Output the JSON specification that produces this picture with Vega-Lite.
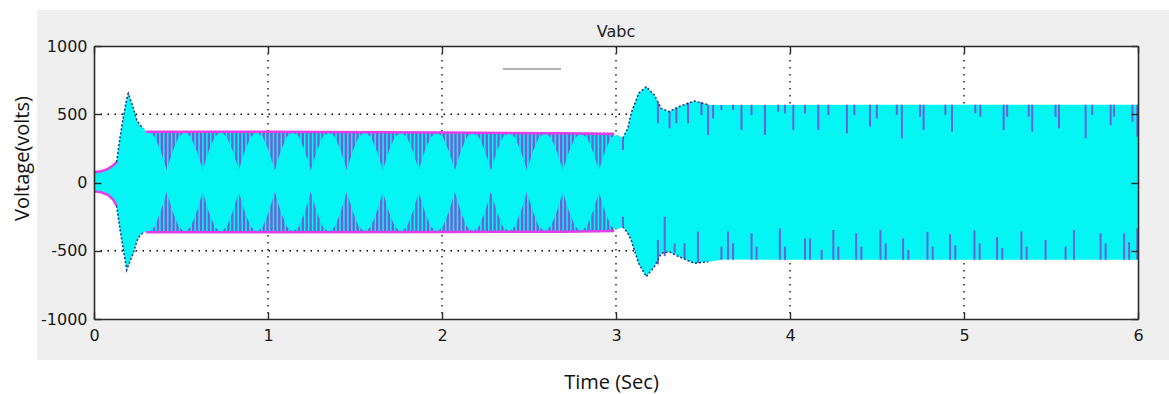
{
  "$schema": "https://vega.github.io/schema/vega-lite/v6.json",
  "width": 1044,
  "height": 273,
  "autosize": {"type": "none"},
  "padding": {"left": 94, "top": 46, "right": 31, "bottom": 75},
  "background": "white",
  "config": {
    "view": {"stroke": null},
    "axis": {
      "domainColor": "#2b2b2b", "domainWidth": 1.6,
      "tickColor": "#2b2b2b", "tickWidth": 1.4, "tickSize": -7,
      "labelFont": "DejaVu Sans", "labelFontSize": 16, "labelColor": "#1a1a1a",
      "grid": false, "labelOverlap": false,
      "titleFont": "Open Sans", "titleFontSize": 20, "titleFontWeight": "normal", "titleColor": "#111111"
    },
    "axisX": {"labelPadding": 15, "labelFlush": false},
    "axisY": {"labelPadding": 14}
  },
  "title": {"text": "Vabc", "font": "DejaVu Sans", "fontSize": 16, "fontWeight": "normal", "color": "#222222", "anchor": "middle", "offset": 6, "dy": 36},
  "resolve": {"axis": {"x": "independent", "y": "independent"}},
  "datasets": {
    "env": [
      {"t": 0, "hi": 75, "lo": -65}, {"t": 0.04, "hi": 82, "lo": -72}, {"t": 0.08, "hi": 100, "lo": -90},
      {"t": 0.11, "hi": 125, "lo": -125}, {"t": 0.13, "hi": 150, "lo": -170}, {"t": 0.15, "hi": 336, "lo": -348},
      {"t": 0.169, "hi": 482, "lo": -494}, {"t": 0.188, "hi": 615, "lo": -641}, {"t": 0.197, "hi": 653, "lo": -610},
      {"t": 0.217, "hi": 580, "lo": -545}, {"t": 0.226, "hi": 545, "lo": -519}, {"t": 0.246, "hi": 458, "lo": -430},
      {"t": 0.265, "hi": 420, "lo": -385}, {"t": 0.284, "hi": 395, "lo": -368}, {"t": 0.3, "hi": 375, "lo": -362},
      {"t": 0.3145, "hi": 370, "lo": -362}, {"t": 0.349, "hi": 335, "lo": -325}, {"t": 0.3835, "hi": 230, "lo": -215},
      {"t": 0.418, "hi": 90, "lo": -70}, {"t": 0.4525, "hi": 230, "lo": -215}, {"t": 0.487, "hi": 335, "lo": -325},
      {"t": 0.5215, "hi": 369, "lo": -362}, {"t": 0.556, "hi": 335, "lo": -325}, {"t": 0.5905, "hi": 230, "lo": -215},
      {"t": 0.625, "hi": 90, "lo": -70}, {"t": 0.6595, "hi": 230, "lo": -215}, {"t": 0.694, "hi": 335, "lo": -325},
      {"t": 0.7285, "hi": 369, "lo": -362}, {"t": 0.763, "hi": 335, "lo": -325}, {"t": 0.7975, "hi": 230, "lo": -215},
      {"t": 0.832, "hi": 90, "lo": -70}, {"t": 0.8665, "hi": 230, "lo": -215}, {"t": 0.901, "hi": 335, "lo": -325},
      {"t": 0.9355, "hi": 368, "lo": -362}, {"t": 0.97, "hi": 335, "lo": -325}, {"t": 1.0045, "hi": 230, "lo": -215},
      {"t": 1.039, "hi": 90, "lo": -70}, {"t": 1.0735, "hi": 230, "lo": -215}, {"t": 1.108, "hi": 335, "lo": -325},
      {"t": 1.1425, "hi": 368, "lo": -362}, {"t": 1.177, "hi": 335, "lo": -325}, {"t": 1.2115, "hi": 230, "lo": -215},
      {"t": 1.246, "hi": 90, "lo": -70}, {"t": 1.2805, "hi": 230, "lo": -215}, {"t": 1.315, "hi": 335, "lo": -325},
      {"t": 1.3495, "hi": 367, "lo": -362}, {"t": 1.384, "hi": 335, "lo": -325}, {"t": 1.4185, "hi": 230, "lo": -215},
      {"t": 1.453, "hi": 90, "lo": -70}, {"t": 1.4875, "hi": 230, "lo": -215}, {"t": 1.522, "hi": 335, "lo": -325},
      {"t": 1.5565, "hi": 366, "lo": -361}, {"t": 1.591, "hi": 335, "lo": -325}, {"t": 1.6255, "hi": 230, "lo": -215},
      {"t": 1.66, "hi": 90, "lo": -70}, {"t": 1.6945, "hi": 230, "lo": -215}, {"t": 1.729, "hi": 335, "lo": -325},
      {"t": 1.7635, "hi": 365, "lo": -361}, {"t": 1.798, "hi": 334, "lo": -324}, {"t": 1.8325, "hi": 230, "lo": -215},
      {"t": 1.867, "hi": 90, "lo": -70}, {"t": 1.9015, "hi": 230, "lo": -215}, {"t": 1.936, "hi": 334, "lo": -324},
      {"t": 1.9705, "hi": 364, "lo": -360}, {"t": 2.005, "hi": 333, "lo": -324}, {"t": 2.0395, "hi": 229, "lo": -214},
      {"t": 2.074, "hi": 90, "lo": -70}, {"t": 2.1085, "hi": 229, "lo": -214}, {"t": 2.143, "hi": 333, "lo": -324},
      {"t": 2.1775, "hi": 363, "lo": -360}, {"t": 2.212, "hi": 332, "lo": -323}, {"t": 2.2465, "hi": 228, "lo": -213},
      {"t": 2.281, "hi": 90, "lo": -70}, {"t": 2.3155, "hi": 228, "lo": -213}, {"t": 2.35, "hi": 332, "lo": -323},
      {"t": 2.3845, "hi": 362, "lo": -359}, {"t": 2.419, "hi": 331, "lo": -322}, {"t": 2.4535, "hi": 227, "lo": -212},
      {"t": 2.488, "hi": 90, "lo": -70}, {"t": 2.5225, "hi": 227, "lo": -212}, {"t": 2.557, "hi": 330, "lo": -322},
      {"t": 2.5915, "hi": 360, "lo": -358}, {"t": 2.626, "hi": 329, "lo": -321}, {"t": 2.6605, "hi": 226, "lo": -211},
      {"t": 2.695, "hi": 90, "lo": -70}, {"t": 2.7295, "hi": 226, "lo": -211}, {"t": 2.764, "hi": 328, "lo": -320},
      {"t": 2.7985, "hi": 358, "lo": -357}, {"t": 2.833, "hi": 327, "lo": -320}, {"t": 2.8675, "hi": 225, "lo": -210},
      {"t": 2.902, "hi": 90, "lo": -70}, {"t": 2.9365, "hi": 225, "lo": -210}, {"t": 2.971, "hi": 327, "lo": -318},
      {"t": 3.0055, "hi": 352, "lo": -345}, {"t": 3.039, "hi": 324, "lo": -324}, {"t": 3.068, "hi": 397, "lo": -372},
      {"t": 3.087, "hi": 507, "lo": -421}, {"t": 3.13, "hi": 653, "lo": -592}, {"t": 3.174, "hi": 702, "lo": -690},
      {"t": 3.22, "hi": 641, "lo": -617}, {"t": 3.26, "hi": 543, "lo": -519}, {"t": 3.305, "hi": 519, "lo": -507},
      {"t": 3.36, "hi": 555, "lo": -543}, {"t": 3.45, "hi": 597, "lo": -592}, {"t": 3.53, "hi": 570, "lo": -580},
      {"t": 3.62, "hi": 568, "lo": -565}, {"t": 4.5, "hi": 570, "lo": -566}, {"t": 6.0, "hi": 570, "lo": -566}
    ],
    "stripes": [
      {"t": 0.3}, {"t": 0.3225}, {"t": 0.345}, {"t": 0.3675}, {"t": 0.39}, {"t": 0.4125}, {"t": 0.435}, {"t": 0.4575},
      {"t": 0.48}, {"t": 0.5025}, {"t": 0.525}, {"t": 0.5475}, {"t": 0.57}, {"t": 0.5925}, {"t": 0.615}, {"t": 0.6375},
      {"t": 0.66}, {"t": 0.6825}, {"t": 0.705}, {"t": 0.7275}, {"t": 0.75}, {"t": 0.7725}, {"t": 0.795}, {"t": 0.8175},
      {"t": 0.84}, {"t": 0.8625}, {"t": 0.885}, {"t": 0.9075}, {"t": 0.93}, {"t": 0.9525}, {"t": 0.975}, {"t": 0.9975},
      {"t": 1.02}, {"t": 1.0425}, {"t": 1.065}, {"t": 1.0875}, {"t": 1.11}, {"t": 1.1325}, {"t": 1.155}, {"t": 1.1775},
      {"t": 1.2}, {"t": 1.2225}, {"t": 1.245}, {"t": 1.2675}, {"t": 1.29}, {"t": 1.3125}, {"t": 1.335}, {"t": 1.3575},
      {"t": 1.38}, {"t": 1.4025}, {"t": 1.425}, {"t": 1.4475}, {"t": 1.47}, {"t": 1.4925}, {"t": 1.515}, {"t": 1.5375},
      {"t": 1.56}, {"t": 1.5825}, {"t": 1.605}, {"t": 1.6275}, {"t": 1.65}, {"t": 1.6725}, {"t": 1.695}, {"t": 1.7175},
      {"t": 1.74}, {"t": 1.7625}, {"t": 1.785}, {"t": 1.8075}, {"t": 1.83}, {"t": 1.8525}, {"t": 1.875}, {"t": 1.8975},
      {"t": 1.92}, {"t": 1.9425}, {"t": 1.965}, {"t": 1.9875}, {"t": 2.01}, {"t": 2.0325}, {"t": 2.055}, {"t": 2.0775},
      {"t": 2.1}, {"t": 2.1225}, {"t": 2.145}, {"t": 2.1675}, {"t": 2.19}, {"t": 2.2125}, {"t": 2.235}, {"t": 2.2575},
      {"t": 2.28}, {"t": 2.3025}, {"t": 2.325}, {"t": 2.3475}, {"t": 2.37}, {"t": 2.3925}, {"t": 2.415}, {"t": 2.4375},
      {"t": 2.46}, {"t": 2.4825}, {"t": 2.505}, {"t": 2.5275}, {"t": 2.55}, {"t": 2.5725}, {"t": 2.595}, {"t": 2.6175},
      {"t": 2.64}, {"t": 2.6625}, {"t": 2.685}, {"t": 2.7075}, {"t": 2.73}, {"t": 2.7525}, {"t": 2.775}, {"t": 2.7975},
      {"t": 2.82}, {"t": 2.8425}, {"t": 2.865}, {"t": 2.8875}, {"t": 2.91}, {"t": 2.9325}, {"t": 2.955}, {"t": 2.9775}
    ],
    "spikes": [
      {"t": 3.04, "a": 324, "b": 238}, {"t": 3.241, "a": 590, "b": 434}, {"t": 3.308, "a": 519, "b": 397},
      {"t": 3.347, "a": 545, "b": 434}, {"t": 3.414, "a": 585, "b": 434}, {"t": 3.491, "a": 590, "b": 494},
      {"t": 3.529, "a": 570, "b": 348}, {"t": 3.558, "a": 568, "b": 470}, {"t": 3.606, "a": 568, "b": 531},
      {"t": 3.673, "a": 570, "b": 531}, {"t": 3.721, "a": 570, "b": 385}, {"t": 3.779, "a": 570, "b": 494},
      {"t": 3.856, "a": 570, "b": 348}, {"t": 3.932, "a": 570, "b": 519}, {"t": 3.971, "a": 570, "b": 506},
      {"t": 4.019, "a": 570, "b": 385}, {"t": 4.086, "a": 570, "b": 506}, {"t": 4.163, "a": 570, "b": 385},
      {"t": 4.221, "a": 570, "b": 494}, {"t": 4.327, "a": 570, "b": 360}, {"t": 4.37, "a": 570, "b": 494},
      {"t": 4.46, "a": 570, "b": 409}, {"t": 4.499, "a": 570, "b": 470}, {"t": 4.614, "a": 570, "b": 494},
      {"t": 4.643, "a": 570, "b": 324}, {"t": 4.748, "a": 570, "b": 482}, {"t": 4.768, "a": 570, "b": 385},
      {"t": 4.893, "a": 570, "b": 494}, {"t": 4.931, "a": 570, "b": 372}, {"t": 5.065, "a": 570, "b": 507},
      {"t": 5.094, "a": 570, "b": 482}, {"t": 5.228, "a": 570, "b": 385}, {"t": 5.248, "a": 570, "b": 482},
      {"t": 5.372, "a": 570, "b": 482}, {"t": 5.392, "a": 570, "b": 372}, {"t": 5.526, "a": 570, "b": 482},
      {"t": 5.546, "a": 570, "b": 397}, {"t": 5.699, "a": 570, "b": 324}, {"t": 5.737, "a": 570, "b": 494},
      {"t": 5.843, "a": 570, "b": 421}, {"t": 5.862, "a": 570, "b": 482}, {"t": 5.968, "a": 570, "b": 445},
      {"t": 5.996, "a": 570, "b": 336},
      {"t": 3.04, "a": -324, "b": -250}, {"t": 3.241, "a": -600, "b": -421}, {"t": 3.28, "a": -540, "b": -250},
      {"t": 3.337, "a": -515, "b": -446}, {"t": 3.394, "a": -560, "b": -446}, {"t": 3.471, "a": -590, "b": -360},
      {"t": 3.606, "a": -566, "b": -470}, {"t": 3.644, "a": -566, "b": -360}, {"t": 3.673, "a": -566, "b": -446},
      {"t": 3.779, "a": -566, "b": -372}, {"t": 3.808, "a": -566, "b": -470}, {"t": 3.942, "a": -566, "b": -336},
      {"t": 3.971, "a": -566, "b": -470}, {"t": 4.086, "a": -566, "b": -409}, {"t": 4.115, "a": -566, "b": -409},
      {"t": 4.182, "a": -566, "b": -494}, {"t": 4.249, "a": -566, "b": -348}, {"t": 4.278, "a": -566, "b": -470},
      {"t": 4.38, "a": -566, "b": -372}, {"t": 4.41, "a": -566, "b": -470}, {"t": 4.52, "a": -566, "b": -348},
      {"t": 4.55, "a": -566, "b": -446}, {"t": 4.65, "a": -566, "b": -409}, {"t": 4.68, "a": -566, "b": -494},
      {"t": 4.79, "a": -566, "b": -360}, {"t": 4.82, "a": -566, "b": -470}, {"t": 4.92, "a": -566, "b": -380},
      {"t": 4.95, "a": -566, "b": -460}, {"t": 5.06, "a": -566, "b": -350}, {"t": 5.09, "a": -566, "b": -446},
      {"t": 5.19, "a": -566, "b": -400}, {"t": 5.22, "a": -566, "b": -480}, {"t": 5.33, "a": -566, "b": -360},
      {"t": 5.36, "a": -566, "b": -470}, {"t": 5.469, "a": -566, "b": -421}, {"t": 5.584, "a": -566, "b": -470},
      {"t": 5.632, "a": -566, "b": -348}, {"t": 5.785, "a": -566, "b": -372}, {"t": 5.814, "a": -566, "b": -445},
      {"t": 5.92, "a": -566, "b": -372}, {"t": 5.949, "a": -566, "b": -438}, {"t": 5.996, "a": -566, "b": -336}
    ],
    "edge": [
      {"t": 0, "top": 75, "bot": -65, "seg": "a"}, {"t": 0.04, "top": 82, "bot": -72, "seg": "a"},
      {"t": 0.08, "top": 100, "bot": -90, "seg": "a"}, {"t": 0.11, "top": 125, "bot": -125, "seg": "a"},
      {"t": 0.13, "top": 150, "bot": -170, "seg": "a"},
      {"t": 0.3, "top": 372, "bot": -364, "seg": "b"}, {"t": 1.0, "top": 371, "bot": -365, "seg": "b"},
      {"t": 2.0, "top": 366, "bot": -363, "seg": "b"}, {"t": 2.7, "top": 361, "bot": -360, "seg": "b"},
      {"t": 2.99, "top": 356, "bot": -356, "seg": "b"}
    ],
    "dark": [
      {"t": 0.13, "hi": 150, "lo": -170, "seg": "a"}, {"t": 0.15, "hi": 336, "lo": -348, "seg": "a"},
      {"t": 0.169, "hi": 482, "lo": -494, "seg": "a"}, {"t": 0.188, "hi": 615, "lo": -641, "seg": "a"},
      {"t": 0.197, "hi": 653, "lo": -610, "seg": "a"}, {"t": 0.217, "hi": 580, "lo": -545, "seg": "a"},
      {"t": 0.226, "hi": 545, "lo": -519, "seg": "a"}, {"t": 0.246, "hi": 458, "lo": -430, "seg": "a"},
      {"t": 0.265, "hi": 420, "lo": -385, "seg": "a"}, {"t": 0.284, "hi": 395, "lo": -368, "seg": "a"},
      {"t": 3.039, "hi": 324, "lo": -324, "seg": "b"}, {"t": 3.068, "hi": 397, "lo": -372, "seg": "b"},
      {"t": 3.087, "hi": 507, "lo": -421, "seg": "b"}, {"t": 3.13, "hi": 653, "lo": -592, "seg": "b"},
      {"t": 3.174, "hi": 702, "lo": -690, "seg": "b"}, {"t": 3.22, "hi": 641, "lo": -617, "seg": "b"},
      {"t": 3.26, "hi": 543, "lo": -519, "seg": "b"}, {"t": 3.305, "hi": 519, "lo": -507, "seg": "b"},
      {"t": 3.36, "hi": 555, "lo": -543, "seg": "b"}, {"t": 3.45, "hi": 597, "lo": -592, "seg": "b"},
      {"t": 3.53, "hi": 570, "lo": -580, "seg": "b"}
    ]
  },
  "layer": [
    {
      "data": {"values": [{}]},
      "mark": {"type": "rect", "fill": "#efefef", "clip": false},
      "encoding": {
        "x": {"datum": -0.328, "type": "quantitative", "scale": {"domain": [0, 6], "nice": false, "zero": false}, "axis": null},
        "x2": {"datum": 6.18},
        "y": {"datum": 1264, "type": "quantitative", "scale": {"domain": [-1000, 1000], "nice": false, "zero": false}, "axis": null},
        "y2": {"datum": -1300}
      }
    },
    {
      "data": {"values": [{}]},
      "mark": {"type": "rect", "fill": "#ffffff"},
      "encoding": {
        "x": {"datum": 0, "type": "quantitative", "scale": {"domain": [0, 6], "nice": false, "zero": false},
              "axis": {"orient": "top", "labels": false, "title": null, "values": [0, 1, 2, 3, 4, 5, 6], "zindex": 2, "minExtent": 0, "maxExtent": 0}},
        "x2": {"datum": 6},
        "y": {"datum": 1000, "type": "quantitative", "scale": {"domain": [-1000, 1000], "nice": false, "zero": false},
              "axis": {"orient": "right", "labels": false, "title": null, "values": [-1000, -500, 0, 500, 1000], "zindex": 2, "minExtent": 0, "maxExtent": 0}},
        "y2": {"datum": -1000}
      }
    },
    {
      "data": {"values": [{"g": 1}, {"g": 2}, {"g": 3}, {"g": 4}, {"g": 5}]},
      "mark": {"type": "rule", "color": "#000000", "strokeDash": [1.5, 5.5], "strokeWidth": 1.3},
      "encoding": {"x": {"field": "g", "type": "quantitative", "axis": null}}
    },
    {
      "data": {"values": [{"v": -500}, {"v": 0}, {"v": 500}]},
      "mark": {"type": "rule", "color": "#000000", "strokeDash": [1.5, 5.5], "strokeWidth": 1.3},
      "encoding": {"y": {"field": "v", "type": "quantitative", "axis": null}}
    },
    {
      "data": {"values": [{}]},
      "mark": {"type": "rule", "color": "#9a9a9a", "strokeWidth": 1.5},
      "encoding": {
        "x": {"datum": 2.35, "type": "quantitative", "axis": null},
        "x2": {"datum": 2.684},
        "y": {"datum": 831, "type": "quantitative", "axis": null}
      }
    },
    {
      "data": {"name": "edge"},
      "transform": [{"filter": "datum.seg == 'b'"}],
      "mark": {"type": "area", "color": "#05f5f5", "interpolate": "linear"},
      "encoding": {
        "x": {"field": "t", "type": "quantitative", "axis": null},
        "y": {"field": "top", "type": "quantitative", "axis": null},
        "y2": {"field": "bot"}
      }
    },
    {
      "data": {"name": "stripes"},
      "mark": {"type": "rule", "color": "#6e62d8", "strokeWidth": 2.4},
      "encoding": {
        "x": {"field": "t", "type": "quantitative", "scale": {"domain": [0, 6], "nice": false, "zero": false},
              "axis": {"values": [0, 1, 2, 3, 4, 5, 6], "title": "Time (Sec)", "titleX": 517, "titleY": 69, "zindex": 2,
                       "titleAlign": "center", "titleBaseline": "alphabetic", "titleAnchor": null}},
        "y": {"datum": 366, "type": "quantitative", "scale": {"domain": [-1000, 1000], "nice": false, "zero": false},
              "axis": {"values": [-1000, -500, 0, 500, 1000], "labelExpr": "'' + datum.value", "title": "Voltage(volts)", "titleX": -65.5, "titleY": 112, "zindex": 2,
                       "titleAngle": -90, "titleAlign": "center", "titleBaseline": "alphabetic", "titleAnchor": null}},
        "y2": {"datum": -362}
      }
    },
    {
      "data": {"name": "env"},
      "mark": {"type": "area", "color": "#05f5f5", "interpolate": "linear"},
      "encoding": {
        "x": {"field": "t", "type": "quantitative", "axis": null},
        "y": {"field": "hi", "type": "quantitative", "axis": null},
        "y2": {"field": "lo"}
      }
    },
    {
      "data": {"name": "spikes"},
      "mark": {"type": "rule", "color": "#6a62d8", "strokeWidth": 2},
      "encoding": {
        "x": {"field": "t", "type": "quantitative", "axis": null},
        "y": {"field": "a", "type": "quantitative", "axis": null},
        "y2": {"field": "b"}
      }
    },
    {
      "data": {"name": "edge"},
      "mark": {"type": "line", "color": "#e23ee6", "strokeWidth": 2.5},
      "encoding": {
        "x": {"field": "t", "type": "quantitative", "axis": null},
        "y": {"field": "top", "type": "quantitative", "axis": null},
        "detail": {"field": "seg"}
      }
    },
    {
      "data": {"name": "edge"},
      "mark": {"type": "line", "color": "#e23ee6", "strokeWidth": 2.5},
      "encoding": {
        "x": {"field": "t", "type": "quantitative", "axis": null},
        "y": {"field": "bot", "type": "quantitative", "axis": null},
        "detail": {"field": "seg"}
      }
    },
    {
      "data": {"name": "dark"},
      "mark": {"type": "line", "color": "#23307a", "strokeWidth": 1.5, "strokeDash": [2, 2]},
      "encoding": {
        "x": {"field": "t", "type": "quantitative", "axis": null},
        "y": {"field": "hi", "type": "quantitative", "axis": null},
        "detail": {"field": "seg"}
      }
    },
    {
      "data": {"name": "dark"},
      "mark": {"type": "line", "color": "#23307a", "strokeWidth": 1.5, "strokeDash": [2, 2]},
      "encoding": {
        "x": {"field": "t", "type": "quantitative", "axis": null},
        "y": {"field": "lo", "type": "quantitative", "axis": null},
        "detail": {"field": "seg"}
      }
    }
  ]
}
